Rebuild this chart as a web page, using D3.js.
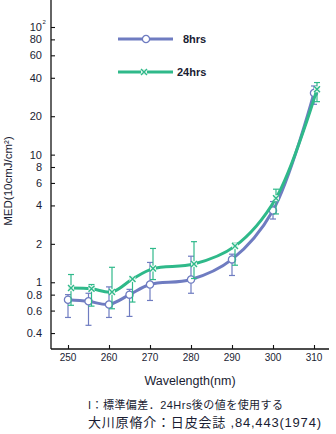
<!DOCTYPE html>
<html>
<head>
<meta charset="utf-8">
<script src="https://cdn.jsdelivr.net/npm/d3@7"></script>
<style>
  body { margin: 0; background: #fff; }
  svg { display: block; font-family: "Liberation Sans", "Noto Sans CJK JP", sans-serif; }
</style>
</head>
<body>
<svg width="336" height="434"></svg>
<script>
// wavelengths (nm)
var wavelengths = [250, 255, 260, 265, 270, 280, 290, 300, 310]
// 8hrs series: mean and error bar range (MED)
var med8 = [0.73, 0.71, 0.67, 0.80, 0.96, 1.05, 1.51, 3.65, 30.4]
var lo8 = [0.53, 0.46, 0.53, 0.54, 0.72, 0.82, 1.13, 3.13, 24.8]
var hi8 = [0.80, 0.82, 0.92, 0.88, 1.43, 1.60, 1.66, 4.29, 34.5]
// 24hrs series
var med24 = [0.90, 0.89, 0.84, 1.06, 1.28, 1.39, 1.92, 4.56, 32.5]
var lo24 = [0.66, 0.65, 0.62, 0.70, 1.05, 1.07, 1.36, 3.43, 26.0]
var hi24 = [1.15, 0.96, 1.31, 1.08, 1.84, 2.08, 2.02, 5.36, 36.7]

var xTicks = [250, 260, 270, 280, 290, 300, 310]
var yTicks = [0.4, 0.6, 0.8, 1, 2, 4, 6, 8, 10, 20, 40, 60, 80, 100]

var blue = "#6f7cc1"
var green = "#2fb98a"
var dodge = 3

const svg = d3.select("svg")

var x = d3.scaleLinear().domain([250, 310]).range([68, 314])
var y = d3.scaleLog().domain([0.3, 100]).range([349, 27])

// axes
svg.append("line")
	.attr("x1", 51).attr("x2", 51).attr("y1", 0).attr("y2", 349)
	.attr("stroke", "#111").attr("stroke-width", 1.3)
svg.append("line")
	.attr("x1", 51).attr("x2", 329).attr("y1", 349).attr("y2", 349)
	.attr("stroke", "#111").attr("stroke-width", 1.3)

const yAxis = svg.append("g")
	.attr("transform", "translate(51,0)")
	.call(d3.axisRight(y).tickValues(yTicks).tickSize(4).tickFormat(""))
yAxis.select(".domain").remove()
yAxis.selectAll("line").attr("stroke", "#111").attr("stroke-width", 1.1)

svg.append("g").selectAll("text")
	.data(yTicks)
	.join("text")
	.attr("x", 42)
	.attr("y", d => y(d) + 4)
	.attr("text-anchor", "end")
	.attr("font-size", 11)
	.attr("fill", "#1a1d33")
	.text(d => d == 100 ? "10" : d)
svg.append("text")
	.attr("x", 42.5).attr("y", y(100) - 3)
	.attr("font-size", 6).attr("fill", "#1a1d33")
	.text("2")

const xAxis = svg.append("g")
	.attr("transform", "translate(0,349)")
	.call(d3.axisTop(x).tickValues(xTicks).tickSize(4).tickFormat(""))
xAxis.select(".domain").remove()
xAxis.selectAll("line").attr("stroke", "#111").attr("stroke-width", 1.1)

svg.append("g").selectAll("text")
	.data(xTicks)
	.join("text")
	.attr("x", d => x(d))
	.attr("y", 361)
	.attr("text-anchor", "middle")
	.attr("font-size", 10)
	.attr("fill", "#1a1d33")
	.text(d => d)

svg.append("text")
	.attr("x", 190).attr("y", 385)
	.attr("text-anchor", "middle")
	.attr("font-size", 12.5)
	.attr("fill", "#1a1d33")
	.text("Wavelength(nm)")

svg.append("text")
	.attr("transform", "translate(12,181) rotate(-90)")
	.attr("text-anchor", "middle")
	.attr("font-size", 11.5)
	.attr("fill", "#1a1d33")
	.text("MED(10cmJ/cm²)")

// notes under the axis
svg.append("text")
	.attr("x", 88).attr("y", 409)
	.attr("font-size", 11)
	.attr("textLength", 195)
	.attr("lengthAdjust", "spacing")
	.attr("fill", "#1a1d33")
	.text("I：標準偏差．24Hrs後の値を使用する")
svg.append("text")
	.attr("x", 88).attr("y", 427)
	.attr("font-size", 13)
	.attr("textLength", 233)
	.attr("lengthAdjust", "spacing")
	.attr("fill", "#1a1d33")
	.text("大川原脩介：日皮会誌 ,84,443(1974)")

// one series: smooth line, error bars, markers
function drawSeries(vals, lo, hi, color, dx, marker) {
	var pts = wavelengths.map((w, i) => ({w: w, v: vals[i], lo: lo[i], hi: hi[i]}))
	var line = d3.line()
		.x(d => x(d.w) + dx)
		.y(d => y(d.v))
		.curve(d3.curveCatmullRom.alpha(0.5))
	svg.append("path")
		.datum(pts)
		.attr("d", line)
		.attr("fill", "none")
		.attr("stroke", color)
		.attr("stroke-width", 3)

	const bars = svg.append("g").selectAll("g")
		.data(pts)
		.join("g")
		.attr("stroke", color)
		.attr("stroke-width", 1.2)
	bars.append("line")
		.attr("x1", d => x(d.w) + dx).attr("x2", d => x(d.w) + dx)
		.attr("y1", d => y(d.hi)).attr("y2", d => y(d.lo))
	bars.append("line")
		.attr("x1", d => x(d.w) + dx - 3).attr("x2", d => x(d.w) + dx + 3)
		.attr("y1", d => y(d.hi)).attr("y2", d => y(d.hi))
	bars.append("line")
		.attr("x1", d => x(d.w) + dx - 3).attr("x2", d => x(d.w) + dx + 3)
		.attr("y1", d => y(d.lo)).attr("y2", d => y(d.lo))

	const m = svg.append("g").selectAll("g")
		.data(pts)
		.join("g")
		.attr("transform", d => `translate(${x(d.w) + dx},${y(d.v)})`)
	marker(m, color)
}

function circleMarker(sel, color) {
	sel.append("circle")
		.attr("r", 3.6)
		.attr("fill", "#fff")
		.attr("stroke", color)
		.attr("stroke-width", 1.3)
}

function crossMarker(sel, color) {
	sel.append("rect")
		.attr("x", -3).attr("y", -3).attr("width", 6).attr("height", 6)
		.attr("fill", "#e8f7f0")
	sel.append("path")
		.attr("d", "M-3,-3L3,3M-3,3L3,-3")
		.attr("stroke", color)
		.attr("stroke-width", 1.4)
}

drawSeries(med8, lo8, hi8, blue, 0, circleMarker)
drawSeries(med24, lo24, hi24, green, dodge, crossMarker)

// legend
var legend = [
	{label: "8hrs", color: blue, marker: circleMarker, y: 39, mx: 146, tx: 183},
	{label: "24hrs", color: green, marker: crossMarker, y: 72, mx: 144, tx: 177}
]
legend.forEach(function(l) {
	svg.append("line")
		.attr("x1", 118).attr("x2", 173).attr("y1", l.y).attr("y2", l.y)
		.attr("stroke", l.color).attr("stroke-width", 3)
	var g = svg.append("g").attr("transform", `translate(${l.mx},${l.y})`)
	l.marker(g, l.color)
	svg.append("text")
		.attr("x", l.tx).attr("y", l.y + 4)
		.attr("font-size", 11)
		.attr("font-weight", "bold")
		.attr("fill", "#1a1d33")
		.text(l.label)
})
</script>
</body>
</html>
